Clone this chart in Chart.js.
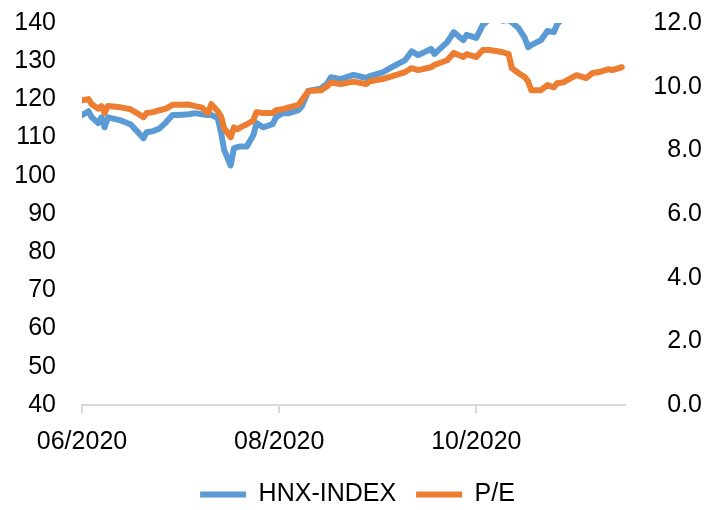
<!DOCTYPE html>
<html>
<head>
<meta charset="utf-8">
<script src="https://cdn.jsdelivr.net/npm/chart.js@4/dist/chart.umd.min.js"></script>
<style>
  html, body { margin: 0; padding: 0; background: #ffffff; }
  #c { display: block; }
</style>
</head>
<body>
<canvas id="c" width="715" height="510"></canvas>
<script>
// Days since 1 June 2020
const dayOffsets = [0,2,3,5,6,7,8,12,14,15,17,19,20,22,24,26,28,30,33,35,37,39,40,42,43,44,46,47,48,49,51,53,54,56,59,60,62,64,67,68,70,74,76,77,80,84,88,89,93,96,100,102,104,108,109,113,115,118,119,122,124,126,128,130,132,133,135,137,138,139,142,144,146,147,149,150,153,154,156,158,160,163,164,167];

const hnxIndex = [115.9,116.9,115.3,113.8,115.3,112.7,115.3,114.5,113.8,113.5,111.7,109.8,111.4,111.7,112.4,114.0,115.9,115.9,116.1,116.4,116.1,115.9,115.9,115.1,111.4,106.7,102.7,107.2,107.5,107.7,107.7,110.6,113.8,112.7,113.5,115.3,116.4,116.4,117.2,118.2,122.2,122.9,124.3,125.8,125.3,126.4,125.6,126.1,127.1,128.5,130.3,132.6,131.6,133.2,131.9,135.0,137.6,135.5,136.9,136.1,139.5,141.0,141.5,140.6,140.8,140.2,138.7,136.1,133.7,134.2,135.5,137.9,137.6,139.7,141.5,142.5,143.5,143.0,143.5,144.5,145.0,145.5,145.0,146.0];

const peRatio = [9.57,9.61,9.45,9.31,9.39,9.17,9.39,9.35,9.31,9.29,9.17,9.04,9.17,9.20,9.26,9.31,9.43,9.43,9.44,9.39,9.35,9.17,9.45,9.23,9.07,8.69,8.41,8.72,8.66,8.72,8.82,8.94,9.20,9.17,9.17,9.26,9.29,9.35,9.43,9.57,9.86,9.89,10.02,10.13,10.08,10.16,10.08,10.17,10.24,10.33,10.46,10.58,10.52,10.61,10.68,10.83,11.06,10.93,11.02,10.93,11.15,11.15,11.12,11.09,11.02,10.58,10.43,10.30,10.17,9.89,9.89,10.05,9.98,10.11,10.14,10.20,10.36,10.33,10.27,10.43,10.46,10.55,10.52,10.61];

const tickDays = [0, 61, 122];
const tickLabels = ['06/2020', '08/2020', '10/2020'];
const seriesNames = ['HNX-INDEX', 'P/E'];

const FONT = "'Liberation Sans', Arial, sans-serif";
Chart.defaults.color = '#000000';
Chart.defaults.font.family = FONT;

const toPoints = (vals) => dayOffsets.map((d, i) => ({ x: d, y: vals[i] }));

new Chart(document.getElementById('c'), {
  type: 'line',
  data: {
    datasets: [
      {
        label: seriesNames[0],
        data: toPoints(hnxIndex),
        yAxisID: 'y',
        borderColor: '#5B9BD5',
        backgroundColor: '#5B9BD5',
        borderWidth: 6,
        pointRadius: 0,
        tension: 0,
        borderCapStyle: 'round',
        borderJoinStyle: 'round',
        order: 1
      },
      {
        label: seriesNames[1],
        data: toPoints(peRatio),
        yAxisID: 'y1',
        borderColor: '#ED7D31',
        backgroundColor: '#ED7D31',
        borderWidth: 6,
        pointRadius: 0,
        tension: 0,
        borderCapStyle: 'round',
        borderJoinStyle: 'round',
        order: 0
      }
    ]
  },
  options: {
    responsive: false,
    animation: false,
    devicePixelRatio: 1,
    layout: { padding: { top: 23, left: 13, right: 13, bottom: -7 } },
    plugins: {
      tooltip: { enabled: false },
      legend: {
        position: 'bottom',
        labels: {
          usePointStyle: true,
          pointStyle: 'line',
          pointStyleWidth: 46,
          padding: 20,
          font: { size: 25, family: FONT, lineHeight: 1.0 },
          color: '#000000',
          sort: (a, b) => a.datasetIndex - b.datasetIndex
        }
      }
    },
    scales: {
      x: {
        type: 'linear',
        min: 0,
        max: 168,
        afterBuildTicks: (axis) => { axis.ticks = tickDays.map(v => ({ value: v })); },
        ticks: {
          padding: 14,
          maxRotation: 0,
          autoSkip: false,
          font: { size: 25, family: FONT },
          callback: (v) => { const i = tickDays.indexOf(v); return i >= 0 ? tickLabels[i] : ''; }
        },
        grid: { drawOnChartArea: false, drawTicks: true, tickLength: 8, color: '#d9d9d9', lineWidth: 2 },
        border: { display: true, color: '#d9d9d9', width: 2 },
        afterFit: (s) => { s.height = 57; s.paddingLeft = 0; s.paddingRight = 0; }
      },
      y: {
        position: 'left',
        min: 40,
        max: 140,
        ticks: { stepSize: 10, padding: 18, font: { size: 25, family: FONT } },
        grid: { display: false },
        border: { display: false },
        afterFit: (s) => { s.width = 69; s.paddingTop = 0; s.paddingBottom = 0; }
      },
      y1: {
        position: 'right',
        min: 0,
        max: 12,
        ticks: { stepSize: 2, padding: 17, crossAlign: 'far', font: { size: 25, family: FONT }, callback: (v) => Number(v).toFixed(1) },
        grid: { display: false },
        border: { display: false },
        afterFit: (s) => { s.width = 77; s.paddingTop = 0; s.paddingBottom = 0; }
      }
    }
  }
});
</script>
</body>
</html>
